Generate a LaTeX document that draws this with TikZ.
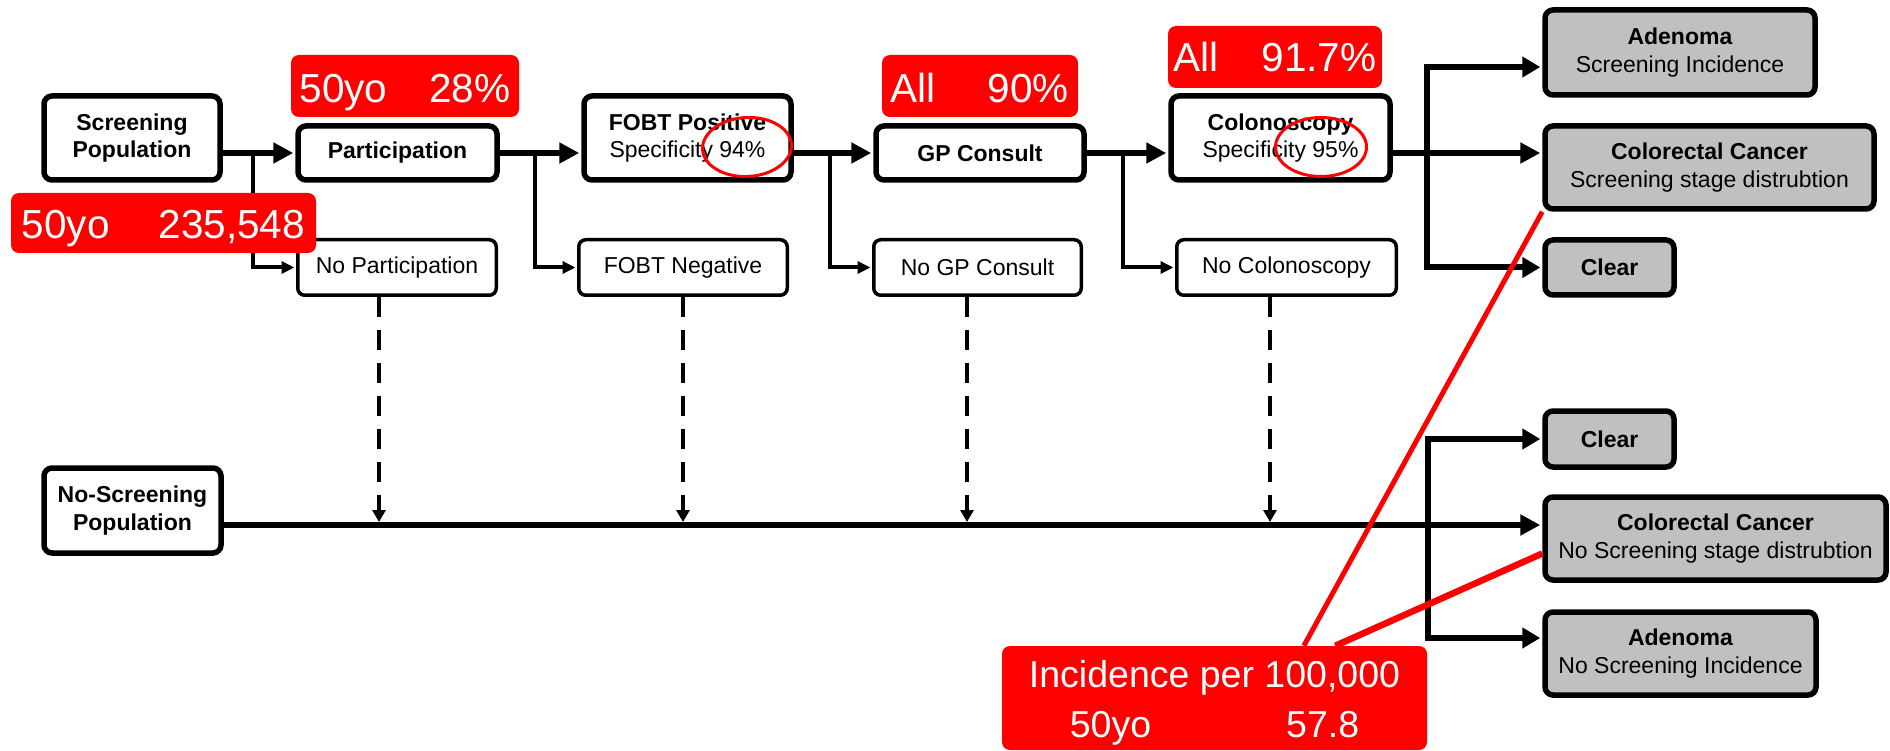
\documentclass[tikz,border=0pt]{standalone}
\usepackage{fontspec}
\setmainfont{Liberation Sans}
\usetikzlibrary{arrows.meta,calc}
\definecolor{boxgrey}{RGB}{192,192,192}
\definecolor{hired}{RGB}{255,0,0}
\begin{document}
\begin{tikzpicture}[x=1pt,y=-1pt,
  bigbox/.style={draw=black, line width=5.5pt, rounded corners=8pt, fill=white, align=center, inner sep=0pt, font=\fontsize{23}{27.5}\selectfont},
  smallbox/.style={draw=black, line width=3.5pt, rounded corners=7pt, fill=white, align=center, inner sep=0pt, font=\fontsize{23}{27.5}\selectfont},
  outbox/.style={bigbox, fill=boxgrey},
  redtag/.style={fill=hired, text=white, rounded corners=8pt, inner sep=0pt, font=\fontsize{40.5}{48}\selectfont},
  mainarrow/.style={line width=6pt, -{Triangle[length=20pt,width=20pt]}, shorten >=2pt},
  subarrow/.style={line width=4pt, -{Triangle[length=13pt,width=12pt]}, line join=miter, shorten >=1.5pt},
  rarrow/.style={line width=6pt, {Triangle[length=18pt,width=20pt]}-{Triangle[length=18pt,width=20pt]}, line join=miter, shorten >=2pt, shorten <=2pt},
  dasharrow/.style={line width=4pt, dash pattern=on 20pt off 13pt, -{Triangle[length=12pt,width=13pt]}, shorten >=3pt},
  markring/.style={draw=hired, line width=3pt},
  pointer/.style={draw=hired}
]
\useasboundingbox (0,0) rectangle (1890,751);
\coordinate (top) at (0,153);
\coordinate (bot) at (0,525);
\coordinate (ya) at (0,67);
\coordinate (yb) at (0,638);
\coordinate (b1) at (253,0);
\coordinate (b2) at (535,0);
\coordinate (b3) at (830,0);
\coordinate (b4) at (1123,0);
\coordinate (rb1) at (1427,0);
\coordinate (rb2) at (1428,0);
\coordinate (d1) at (379,0);
\coordinate (d2) at (683,0);
\coordinate (d3) at (967,0);
\coordinate (d4) at (1270,0);

% main boxes
\node[bigbox, minimum width=176pt, minimum height=84pt] (SP) at (132,138) {\textbf{Screening}\\\textbf{Population}};
\node[bigbox, minimum width=199pt, minimum height=54pt] (Part) at (397.5,153) {\textbf{Participation}};
\node[bigbox, minimum width=207pt, minimum height=84pt] (FOBTp) at (687.5,138) {\textbf{FOBT Positive}\\Specificity 94\%};
\node[bigbox, minimum width=208pt, minimum height=54pt] (GP) at (980,153) {\textbf{GP Consult}};
\node[bigbox, minimum width=219pt, minimum height=84pt] (Colo) at (1280.5,138) {\textbf{Colonoscopy}\\Specificity 95\%};
\node[bigbox, minimum width=177pt, minimum height=85pt] (NoScr) at (132.5,510.5) {\textbf{No-Screening}\\\textbf{Population}};

% side boxes
\node[smallbox, minimum width=198.5pt, minimum height=55.5pt] (NoPart) at (397,267.5) {No Participation};
\node[smallbox, minimum width=208.5pt, minimum height=55.5pt] (FOBTn) at (683,267.5) {FOBT Negative};
\node[smallbox, minimum width=207.5pt, minimum height=55.5pt] (NoGP) at (977.5,267.5) {No GP Consult};
\node[smallbox, minimum width=219.5pt, minimum height=55.5pt] (NoColo) at (1286.5,267.5) {No Colonoscopy};

% outcome boxes
\node[outbox, minimum width=270pt, minimum height=85pt] (AdT) at (1680,52.5) {\textbf{Adenoma}\\Screening Incidence};
\node[outbox, minimum width=329pt, minimum height=83pt] (CRCt) at (1709.5,167.5) {\textbf{Colorectal Cancer}\\Screening stage distrubtion};
\node[outbox, minimum width=129pt, minimum height=55pt] (ClT) at (1609.5,267.5) {\textbf{Clear}};
\node[outbox, minimum width=129pt, minimum height=56pt] (ClB) at (1609.5,439) {\textbf{Clear}};
\node[outbox, minimum width=341pt, minimum height=83pt] (CRCb) at (1715.5,538.5) {\textbf{Colorectal Cancer}\\No Screening stage distrubtion};
\node[outbox, minimum width=271pt, minimum height=83pt] (AdB) at (1680.5,653.5) {\textbf{Adenoma}\\No Screening Incidence};

% main flow
\draw[mainarrow] (SP.east |- top) -- (Part.west);
\draw[mainarrow] (Part.east) -- (FOBTp.west |- top);
\draw[mainarrow] (FOBTp.east |- top) -- (GP.west);
\draw[mainarrow] (GP.east) -- (Colo.west |- top);
\draw[mainarrow] (Colo.east |- top) -- (CRCt.west |- top);
\draw[mainarrow] (NoScr.east |- bot) -- (CRCb.west |- bot);

% branches
\draw[subarrow] (b1 |- top) |- (NoPart.west);
\draw[subarrow] (b2 |- top) |- (FOBTn.west);
\draw[subarrow] (b3 |- top) |- (NoGP.west);
\draw[subarrow] (b4 |- top) |- (NoColo.west);
\draw[rarrow] (ClT.west) -| (rb1 |- ya) -- (AdT.west |- ya);
\draw[rarrow] (ClB.west) -| (rb2 |- yb) -- (AdB.west |- yb);

% dashed transfers
\draw[dasharrow] (NoPart.south -| d1) -- (d1 |- bot);
\draw[dasharrow] (FOBTn.south -| d2) -- (d2 |- bot);
\draw[dasharrow] (NoGP.south -| d3) -- (d3 |- bot);
\draw[dasharrow] (NoColo.south -| d4) -- (d4 |- bot);

% red annotations
\node[redtag, minimum width=228pt, minimum height=62pt, text height=34pt, text depth=0pt] (R1) at (405,86) {50yo\hspace{42pt}28\%};
\node[redtag, minimum width=305pt, minimum height=60pt, text height=32pt, text depth=0pt] (R2) at (163.5,223) {50yo\hspace{49pt}235,548};
\node[redtag, minimum width=196pt, minimum height=62pt, text height=34pt, text depth=0pt] (R3) at (980,86) {All\hspace{52pt}90\%};
\node[redtag, minimum width=214pt, minimum height=62pt, text height=30pt, text depth=0pt] (R4) at (1275,57) {All\hspace{43pt}91.7\%};
\node[redtag, minimum width=425pt, minimum height=104pt, align=center, font=\fontsize{37.5}{50}\selectfont] (R5) at (1214.5,698) {\rule{0pt}{36pt}Incidence per 100,000\\50yo\hspace{135pt}57.8};

\draw[markring] (747,147) ellipse [x radius=44.5pt, y radius=29.5pt, rotate=3];
\draw[markring] (1321,147) ellipse [x radius=45.5pt, y radius=29.5pt];

\draw[pointer, line width=5pt] (CRCt.south west) -- ($(R5.north west)!0.71!(R5.north east)$);
\draw[pointer, line width=6.5pt] ($(CRCb.west)+(0,15)$) -- ($(R5.north west)!0.784!(R5.north east)$);
\end{tikzpicture}
\end{document}
